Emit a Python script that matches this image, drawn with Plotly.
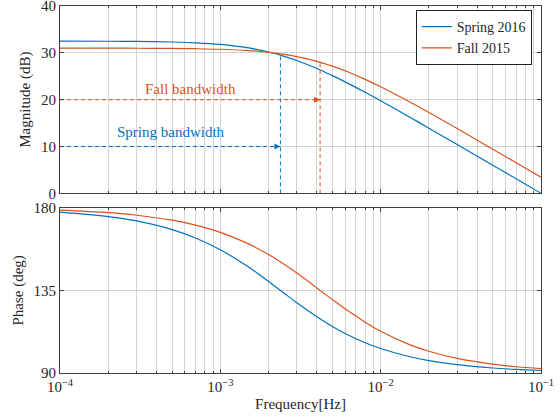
import numpy as np
import plotly.graph_objects as go
from plotly.subplots import make_subplots

# ---------------- data ----------------
freq = [1e-4, 2e-4, 3e-4, 5e-4, 7e-4, 1e-3, 1.5e-3, 2e-3, 2.5e-3, 3e-3, 4e-3,
        5e-3, 6e-3, 8e-3, 1e-2, 1.5e-2, 2e-2, 3e-2, 5e-2, 7e-2, 1e-1]

mag_spring = [32.49, 32.47, 32.43, 32.31, 32.14, 31.79, 31.04, 30.17, 29.25, 28.35, 26.65,
              25.13, 23.80, 21.57, 19.76, 16.37, 13.91, 10.43, 6.01, 3.09, 0.0]
mag_fall = [31.0, 30.99, 30.98, 30.94, 30.88, 30.76, 30.48, 30.11, 29.68, 29.20, 28.19,
            27.15, 26.16, 24.33, 22.74, 19.59, 17.24, 13.82, 9.43, 6.53, 3.44]

phase_spring = [177.58, 175.18, 172.78, 168.09, 163.54, 157.12, 147.67, 139.84, 133.47, 128.30, 120.65,
                115.36, 111.55, 106.50, 103.33, 98.98, 96.76, 94.52, 92.71, 91.94, 91.36]
phase_fall = [178.63, 177.27, 175.90, 173.20, 170.51, 166.57, 160.30, 154.48, 149.17, 144.39, 136.32,
              129.96, 124.93, 117.65, 112.73, 105.61, 101.83, 97.95, 94.79, 93.42, 92.40]

series_names = ["Spring 2016", "Fall 2015"]
bw_freq = [2.37e-3, 4.19e-3]        # bandwidth frequencies (spring, fall)
bw_mag = [29.5, 28.0]               # magnitude at bandwidth
bw_level = [10, 20]                 # level of the horizontal arrow
bw_labels = ["Spring bandwidth", "Fall bandwidth"]
bw_label_pos = [(4.9e-4, 13.0), (6.5e-4, 22.2)]

x_tickvals = [1e-4, 1e-3, 1e-2, 1e-1]
x_ticktext = ["10<sup>−4</sup>", "10<sup>−3</sup>", "10<sup>−2</sup>", "10<sup>−1</sup>"]
mag_ticks = [0, 10, 20, 30, 40]
phase_ticks = [90, 135, 180]

# ---------------- style ----------------
BLUE = "#0072BD"
ORANGE = "#D95319"
colors = [BLUE, ORANGE]
FONT = "Liberation Serif"
TXT = "#262626"
GRID = "#d4d4d4"
FRAME = "#404040"
FS = 15

minor_vals = [k * 10.0 ** e for e in range(-4, -1) for k in range(2, 10)]

fig = make_subplots(rows=2, cols=1, shared_xaxes=True, vertical_spacing=0.04)

for mag, ph, name, c in [(mag_spring, phase_spring, series_names[0], BLUE),
                         (mag_fall, phase_fall, series_names[1], ORANGE)]:
    fig.add_trace(go.Scatter(x=freq, y=mag, mode="lines", name=name,
                             line=dict(color=c, width=1.2, shape="spline")), row=1, col=1)
    fig.add_trace(go.Scatter(x=freq, y=ph, mode="lines", name=name, showlegend=False,
                             line=dict(color=c, width=1.2, shape="spline")), row=2, col=1)

# bandwidth markers
for i in range(2):
    c = colors[i]
    fig.add_trace(go.Scatter(x=[freq[0], bw_freq[i]], y=[bw_level[i], bw_level[i]],
                             mode="lines", showlegend=False, hoverinfo="skip",
                             line=dict(color=c, width=1, dash="4px,3px")), row=1, col=1)
    fig.add_trace(go.Scatter(x=[bw_freq[i]], y=[bw_level[i]], mode="markers",
                             showlegend=False, hoverinfo="skip",
                             marker=dict(symbol="arrow-right", size=6, color=c,
                                         line=dict(width=0))), row=1, col=1)
    fig.add_trace(go.Scatter(x=[bw_freq[i], bw_freq[i]], y=[mag_ticks[0], bw_mag[i]],
                             mode="lines", showlegend=False, hoverinfo="skip",
                             line=dict(color=c, width=1, dash="4px,3px")), row=1, col=1)
    fig.add_annotation(x=np.log10(bw_label_pos[i][0]), y=bw_label_pos[i][1],
                       text=bw_labels[i], showarrow=False,
                       font=dict(family=FONT, size=FS, color=c), xref="x", yref="y")

common_x = dict(type="log", range=[-4, -1], showgrid=True, gridcolor=GRID, gridwidth=1,
                showline=True, linecolor=FRAME, linewidth=1, mirror="ticks",
                ticks="inside", ticklen=4, tickcolor=FRAME, automargin=False,
                ticklabeloverflow="allow",
                tickvals=x_tickvals, ticktext=x_ticktext,
                minor=dict(tickvals=minor_vals, showgrid=True, gridcolor=GRID, gridwidth=1,
                           ticks="inside", ticklen=2, tickcolor=FRAME),
                tickfont=dict(family=FONT, size=FS, color=TXT), zeroline=False)

fig.update_xaxes(**common_x)
fig.update_xaxes(showticklabels=False, row=1, col=1)
fig.update_xaxes(title=dict(text="Frequency[Hz]", font=dict(family=FONT, size=FS, color=TXT),
                            standoff=4), row=2, col=1)

common_y = dict(showgrid=True, gridcolor=GRID, gridwidth=1, showline=True, linecolor=FRAME,
                linewidth=1, mirror="ticks", ticks="inside", ticklen=4, tickcolor=FRAME,
                automargin=False, ticklabeloverflow="allow",
                tickfont=dict(family=FONT, size=FS, color=TXT), zeroline=False)
fig.update_yaxes(**common_y)
fig.update_yaxes(range=[0, 40], tickvals=mag_ticks, domain=[0.4896, 1.0],
                 title=dict(text="Magnitude (dB)", font=dict(family=FONT, size=FS, color=TXT),
                            standoff=6), row=1, col=1)
fig.update_yaxes(range=[90, 180], tickvals=phase_ticks, domain=[0.0, 0.4504],
                 title=dict(text="Phase (deg)", font=dict(family=FONT, size=FS, color=TXT),
                            standoff=6), row=2, col=1)

fig.update_layout(
    width=560, height=420,
    margin=dict(l=60, r=19, t=6, b=47, autoexpand=False),
    paper_bgcolor="white", plot_bgcolor="white",
    font=dict(family=FONT, size=FS, color=TXT),
    legend=dict(x=0.9807, y=0.989, xanchor="right", yanchor="top",
                bgcolor="white", bordercolor="#222", borderwidth=1,
                font=dict(family=FONT, size=14, color=TXT),
                itemwidth=30, tracegroupgap=0, traceorder="normal"),
    showlegend=True,
)

fig.write_html("out.html", config={"displayModeBar": False},
               post_script="document.body.style.margin='0';document.body.style.overflow='hidden';")
